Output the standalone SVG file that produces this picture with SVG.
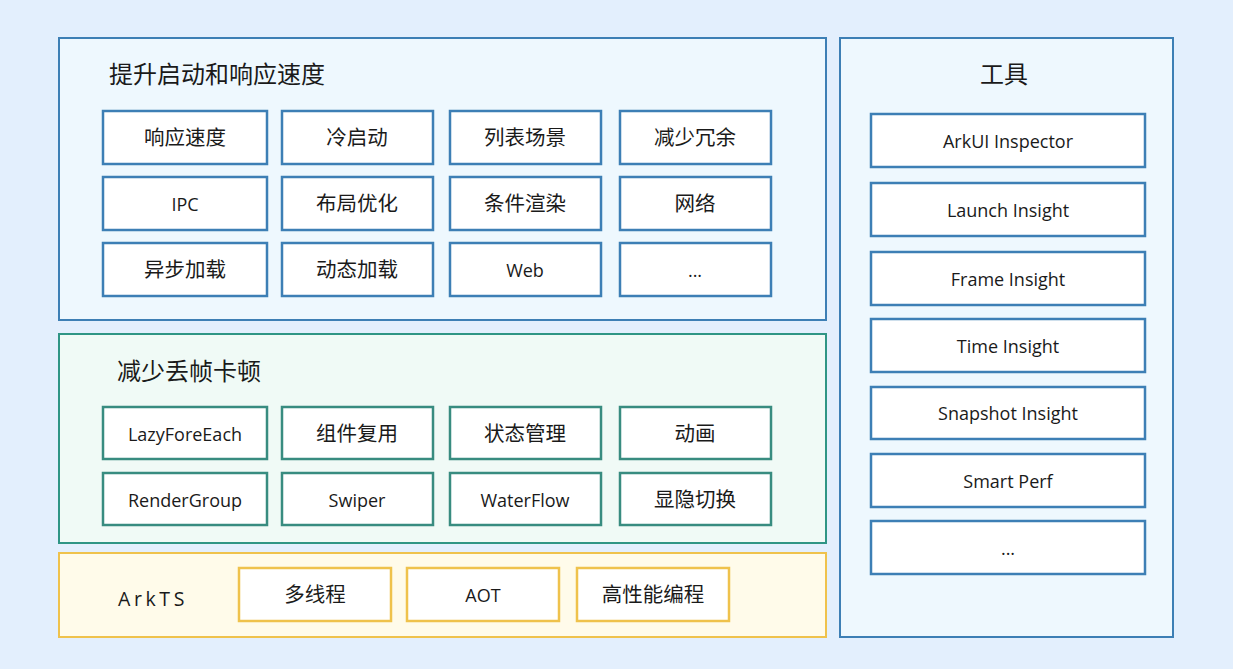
<svg xmlns="http://www.w3.org/2000/svg" width="1233" height="669" viewBox="0 0 1233 669">
<style>
.t{font-family:"Noto Sans CJK SC","Open Sans",sans-serif;fill:#1a1a1a;text-anchor:middle;dominant-baseline:central}
.l{font-family:"Open Sans","Noto Sans CJK SC",sans-serif;fill:#1a1a1a;text-anchor:middle;dominant-baseline:central;font-size:18px}
.c{font-size:20.5px}
.h{font-size:24px;text-anchor:start}
.bb{fill:#ffffff;stroke:#3d7fb5;stroke-width:2.5}
.bg{fill:#ffffff;stroke:#388c80;stroke-width:2.5}
.by{fill:#ffffff;stroke:#efc24c;stroke-width:2.5}
</style>
<rect x="0" y="0" width="1233" height="669" fill="#e3effd"/>
<g id="panel-speed">
<rect x="59" y="38" width="767" height="282" fill="#eef8fe" stroke="#3d7fb5" stroke-width="2"/>
<text class="t h" x="109" y="72">提升启动和响应速度</text>
</g>
<g id="panel-frame">
<rect x="59" y="334" width="767" height="209" fill="#f0faf6" stroke="#2f9585" stroke-width="2"/>
<text class="t h" x="117" y="369">减少丢帧卡顿</text>
</g>
<g id="panel-arkts">
<rect x="59" y="553" width="767" height="84" fill="#fffbea" stroke="#efc24c" stroke-width="2"/>
<text class="l" x="153" y="598" style="font-size:19.5px;letter-spacing:3.6px">ArkTS</text>
</g>
<g id="panel-tools">
<rect x="840" y="38" width="333" height="599" fill="#eef8fe" stroke="#3d7fb5" stroke-width="2"/>
<text class="t" x="1004" y="72" style="font-size:24px">工具</text>
</g>
<g id="n1"><rect class="bb" x="103" y="111" width="164" height="53"/><text class="t c" x="185" y="136">响应速度</text></g>
<g id="n2"><rect class="bb" x="282" y="111" width="151" height="53"/><text class="t c" x="357" y="136">冷启动</text></g>
<g id="n3"><rect class="bb" x="450" y="111" width="151" height="53"/><text class="t c" x="525" y="136">列表场景</text></g>
<g id="n4"><rect class="bb" x="620" y="111" width="151" height="53"/><text class="t c" x="695" y="136">减少冗余</text></g>
<g id="n5"><rect class="bb" x="103" y="177" width="164" height="53"/><text class="l" x="185" y="204">IPC</text></g>
<g id="n6"><rect class="bb" x="282" y="177" width="151" height="53"/><text class="t c" x="357" y="202">布局优化</text></g>
<g id="n7"><rect class="bb" x="450" y="177" width="151" height="53"/><text class="t c" x="525" y="202">条件渲染</text></g>
<g id="n8"><rect class="bb" x="620" y="177" width="151" height="53"/><text class="t c" x="695" y="202">网络</text></g>
<g id="n9"><rect class="bb" x="103" y="243" width="164" height="53"/><text class="t c" x="185" y="268">异步加载</text></g>
<g id="n10"><rect class="bb" x="282" y="243" width="151" height="53"/><text class="t c" x="357" y="268">动态加载</text></g>
<g id="n11"><rect class="bb" x="450" y="243" width="151" height="53"/><text class="l" x="525" y="270">Web</text></g>
<g id="n12"><rect class="bb" x="620" y="243" width="151" height="53"/><text class="l" x="695" y="270">...</text></g>
<g id="f1"><rect class="bg" x="103" y="407" width="164" height="52"/><text class="l" x="185" y="434">LazyForeEach</text></g>
<g id="f2"><rect class="bg" x="282" y="407" width="151" height="52"/><text class="t c" x="357" y="432">组件复用</text></g>
<g id="f3"><rect class="bg" x="450" y="407" width="151" height="52"/><text class="t c" x="525" y="432">状态管理</text></g>
<g id="f4"><rect class="bg" x="620" y="407" width="151" height="52"/><text class="t c" x="695" y="432">动画</text></g>
<g id="f5"><rect class="bg" x="103" y="473" width="164" height="52"/><text class="l" x="185" y="500">RenderGroup</text></g>
<g id="f6"><rect class="bg" x="282" y="473" width="151" height="52"/><text class="l" x="357" y="500">Swiper</text></g>
<g id="f7"><rect class="bg" x="450" y="473" width="151" height="52"/><text class="l" x="525" y="500">WaterFlow</text></g>
<g id="f8"><rect class="bg" x="620" y="473" width="151" height="52"/><text class="t c" x="695" y="498">显隐切换</text></g>
<g id="a1"><rect class="by" x="239" y="568" width="152" height="53"/><text class="t c" x="315" y="593">多线程</text></g>
<g id="a2"><rect class="by" x="407" y="568" width="152" height="53"/><text class="l" x="483" y="595">AOT</text></g>
<g id="a3"><rect class="by" x="577" y="568" width="152" height="53"/><text class="t c" x="653" y="593">高性能编程</text></g>
<g id="t1"><rect class="bb" x="871" y="114" width="274" height="53"/><text class="l" x="1008" y="141">ArkUI Inspector</text></g>
<g id="t2"><rect class="bb" x="871" y="183" width="274" height="53"/><text class="l" x="1008" y="210">Launch Insight</text></g>
<g id="t3"><rect class="bb" x="871" y="252" width="274" height="53"/><text class="l" x="1008" y="279">Frame Insight</text></g>
<g id="t4"><rect class="bb" x="871" y="319" width="274" height="53"/><text class="l" x="1008" y="346">Time Insight</text></g>
<g id="t5"><rect class="bb" x="871" y="387" width="274" height="52"/><text class="l" x="1008" y="413">Snapshot Insight</text></g>
<g id="t6"><rect class="bb" x="871" y="454" width="274" height="53"/><text class="l" x="1008" y="481">Smart Perf</text></g>
<g id="t7"><rect class="bb" x="871" y="521" width="274" height="53"/><text class="l" x="1008" y="548">...</text></g>
<g id="connectors"></g>
</svg>
